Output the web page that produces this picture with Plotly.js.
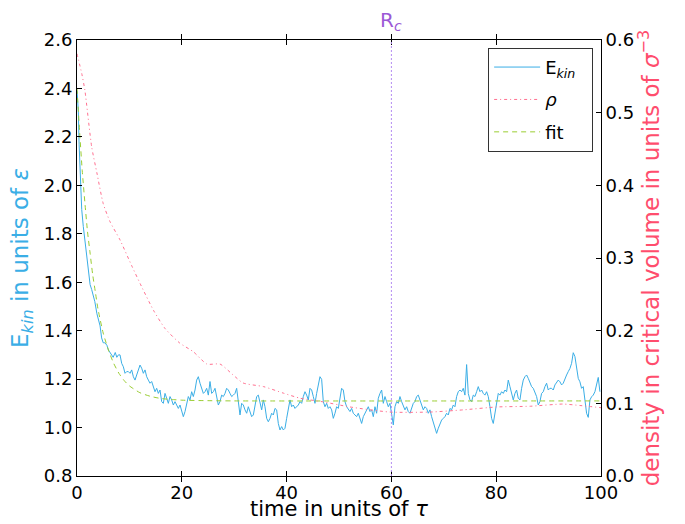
<!DOCTYPE html>
<html>
<head>
<meta charset="utf-8">
<script src="https://cdn.plot.ly/plotly-3.0.1.min.js"></script>
<style>html,body{margin:0;padding:0;background:#fff;}#chart{width:685px;height:524px;}</style>
</head>
<body>
<div id="chart"></div>
<script>
// ---- Data ----
// Early part of kinetic energy (explicit times)
const ekinEarlyT = [0, 0.25, 0.4, 0.6, 0.9, 1.2, 1.5, 1.9, 2.2, 2.5, 2.8, 3.1, 3.4, 3.8, 4.1, 4.4, 4.7, 5.0, 5.3, 5.7, 6.0, 6.3, 6.6, 6.9, 7.3, 7.6, 7.9, 8.21];
const ekinEarly = [2.39, 2.31, 2.17, 2.04, 1.90, 1.83, 1.78, 1.70, 1.65, 1.59, 1.57, 1.55, 1.52, 1.47, 1.44, 1.42, 1.37, 1.35, 1.35, 1.34, 1.32, 1.31, 1.30, 1.29, 1.31, 1.29, 1.30, 1.30];
// Main part of kinetic energy, sampled every 0.318 time units starting at t = 8.21
const ekinStart = 8.21;
const ekinStep = 0.318;
const ekinMain = [
  // t 8.2 - 24.1
  1.300, 1.265, 1.251, 1.224, 1.231, 1.231, 1.224, 1.238, 1.210, 1.196,
  1.217, 1.238, 1.258, 1.245, 1.224, 1.238, 1.210, 1.196, 1.183, 1.190,
  1.169, 1.148, 1.162, 1.141, 1.155, 1.107, 1.100, 1.141, 1.121, 1.100,
  1.128, 1.114, 1.093, 1.107, 1.093, 1.079, 1.093, 1.073, 1.045, 1.066,
  1.100, 1.128, 1.114, 1.148, 1.128, 1.155, 1.196, 1.210, 1.183, 1.162,
  1.141,
  // t 24.4 - 40.3
  1.148, 1.162, 1.134, 1.190, 1.141, 1.148, 1.162, 1.121, 1.093, 1.107,
  1.134, 1.128, 1.141, 1.162, 1.155, 1.141, 1.128, 1.134, 1.141, 1.162,
  1.107, 1.052, 1.100, 1.093, 1.073, 1.059, 1.086, 1.066, 1.045, 1.052,
  1.086, 1.128, 1.134, 1.100, 1.073, 1.114, 1.086, 1.038, 1.024, 1.038,
  1.059, 1.052, 1.079, 1.073, 1.017, 0.990, 1.004, 0.990, 0.997, 1.038,
  1.073,
  // t 40.7 - 56.6
  1.114, 1.086, 1.093, 1.079, 1.086, 1.093, 1.107, 1.100, 1.128, 1.148,
  1.134, 1.114, 1.162, 1.155, 1.128, 1.100, 1.141, 1.183, 1.210, 1.199,
  1.107, 1.086, 1.100, 1.079, 1.086, 1.073, 1.038, 1.059, 1.086, 1.079,
  1.128, 1.162, 1.155, 1.107, 1.086, 1.073, 1.066, 1.079, 1.059, 1.052,
  1.045, 1.059, 1.038, 1.017, 1.045, 1.059, 1.079, 1.086, 1.066, 1.073,
  1.045,
  // t 56.9 - 72.8
  1.086, 1.059, 1.121, 1.141, 1.155, 1.100, 1.128, 1.107, 1.086, 1.100,
  1.045, 1.011, 1.086, 1.107, 1.100, 1.128, 1.107, 1.086, 1.073, 1.086,
  1.066, 1.059, 1.079, 1.100, 1.107, 1.128, 1.134, 1.114, 1.093, 1.073,
  1.086, 1.079, 1.059, 1.073, 1.045, 1.024, 1.004, 0.976, 0.997, 1.017,
  1.031, 1.038, 1.045, 1.059, 1.052, 1.079, 1.073, 1.093, 1.086, 1.128,
  1.148,
  // t 73.1 - 89.0
  1.155, 1.148, 1.162, 1.134, 1.260, 1.141, 1.114, 1.107, 1.134, 1.128,
  1.148, 1.169, 1.148, 1.155, 1.141, 1.134, 1.148, 1.128, 1.086, 1.038,
  1.017, 1.059, 1.114, 1.141, 1.134, 1.148, 1.141, 1.155, 1.148, 1.196,
  1.169, 1.134, 1.114, 1.141, 1.155, 1.121, 1.114, 1.162, 1.196, 1.210,
  1.217, 1.203, 1.183, 1.169, 1.162, 1.148, 1.128, 1.093, 1.107, 1.141,
  1.148,
  // t 89.3 - 99.8
  1.169, 1.183, 1.155, 1.162,
  1.162, 1.155, 1.176, 1.189, 1.196, 1.189, 1.176, 1.183, 1.203, 1.217,
  1.231, 1.244, 1.265, 1.309, 1.293, 1.238, 1.203, 1.189, 1.162, 1.169,
  1.114, 1.059, 1.042, 1.114, 1.127, 1.134, 1.148, 1.183, 1.207, 1.148
];
// Density
const rhoT = [0, 0.9, 1.5, 2.8, 3.8, 5.0, 6.3, 8.2, 10.4, 12.3, 14.6, 16.8, 19.6, 22.2, 24.8, 27.3, 29.8, 31.7, 35.6, 39.4, 42.6, 47.0, 52.1, 59.7, 67.4, 73.7, 80.1, 86.5, 92.7, 96.0, 100];
const rho  = [0.581, 0.554, 0.531, 0.453, 0.417, 0.375, 0.350, 0.325, 0.290, 0.261, 0.228, 0.203, 0.183, 0.171, 0.154, 0.154, 0.139, 0.128, 0.123, 0.114, 0.107, 0.102, 0.095, 0.088, 0.088, 0.091, 0.095, 0.096, 0.099, 0.097, 0.094];
// Fit curve
const fitT = [0, 0.5, 1, 1.5, 2, 2.5, 3, 3.5, 4, 5, 6, 7, 8, 9, 10, 12, 14, 16, 18, 20, 25, 30, 100];
const fit  = [2.40, 2.22, 2.06, 1.93, 1.81, 1.72, 1.63, 1.56, 1.49, 1.39, 1.32, 1.265, 1.224, 1.194, 1.172, 1.144, 1.129, 1.120, 1.116, 1.113, 1.111, 1.11, 1.11];
const rcTime = 60;
const xTicks = [0, 20, 40, 60, 80, 100];

// ---- Styles ----
const blue = '#3aaee6';
const pink = '#ff6f8f';
const green = '#9acd32';
const font = 'DejaVu Sans, Liberation Sans, sans-serif';
const pad = '\u00a0\u00a0';

const traces = [
  {x: ekinEarlyT, y: ekinEarly, type: 'scatter', mode: 'lines', name: 'E<sub><i>kin</i></sub>' + pad,
   legendgroup: 'ekin', line: {color: blue, width: 1}},
  {x0: ekinStart, dx: ekinStep, y: ekinMain, type: 'scatter', mode: 'lines', name: 'E<sub><i>kin</i></sub>',
   legendgroup: 'ekin', showlegend: false, line: {color: blue, width: 1}},
  {x: rhoT, y: rho, type: 'scatter', mode: 'lines', name: '<i>ρ</i>', yaxis: 'y2',
   line: {color: pink, width: 1, dash: '3px,3px,1px,3px', shape: 'spline', smoothing: 0.6}},
  {x: fitT, y: fit, type: 'scatter', mode: 'lines', name: 'fit',
   line: {color: green, width: 1, dash: '5px,4px', shape: 'spline', smoothing: 0.6}}
];
const layout = {
  width: 685, height: 524,
  margin: {l: 77, r: 84, t: 40, b: 48, pad: 0},
  paper_bgcolor: '#fff', plot_bgcolor: '#fff',
  font: {family: font, size: 18, color: '#000'},
  showlegend: true,
  legend: {x: 0.985, xanchor: 'right', y: 0.982, yanchor: 'top',
           bordercolor: '#333', borderwidth: 1, bgcolor: '#fff', itemwidth: 46,
           font: {family: font, size: 18}, tracegroupgap: 6},
  xaxis: {range: [0, 100], tickvals: xTicks, ticks: 'inside', ticklen: 5, tickcolor: '#000',
          showline: true, linecolor: '#000', linewidth: 1, mirror: 'allticks', showgrid: false, zeroline: false,
          tickfont: {size: 18}},
  yaxis: {range: [0.8, 2.6], dtick: 0.2, tick0: 0.8, tickformat: '.1f', ticks: 'inside', ticklen: 5, tickcolor: '#000',
          showline: true, linecolor: '#000', linewidth: 1, mirror: true, showgrid: false, zeroline: false,
          tickfont: {size: 18},
          title: {text: 'E<sub><i>kin</i></sub> in units of <i>ε</i>', font: {size: 23, color: blue}, standoff: 8}},
  yaxis2: {range: [0, 0.6], dtick: 0.1, tick0: 0, tickformat: '.1f', overlaying: 'y', side: 'right',
           ticks: 'inside', ticklen: 5, tickcolor: '#000', showline: true, linecolor: '#000', linewidth: 1,
           showgrid: false, zeroline: false, tickfont: {size: 18},
           title: {text: 'density in critical volume in units of <i>σ</i><sup>−3</sup>', font: {size: 23, color: '#ff4d6d'}, standoff: 4}},
  shapes: [{type: 'line', xref: 'x', yref: 'paper', x0: rcTime, x1: rcTime, y0: 0, y1: 1,
            line: {color: '#b58cf2', width: 1, dash: '2px,2px'}}],
  annotations: [
    {xref: 'x', yref: 'paper', x: rcTime, y: 1, yanchor: 'bottom', yshift: 4, showarrow: false,
     text: 'R<sub><i>c</i></sub>', font: {size: 20, color: '#9b59d6'}},
    {xref: 'paper', yref: 'paper', x: 0.5, y: 0, yanchor: 'middle', yshift: -33, borderpad: 0, showarrow: false,
     text: 'time in units of <i>τ</i>', font: {size: 21, color: '#000'}}
  ]
};
Plotly.newPlot('chart', traces, layout, {displayModeBar: false, staticPlot: true});
</script>
</body>
</html>
